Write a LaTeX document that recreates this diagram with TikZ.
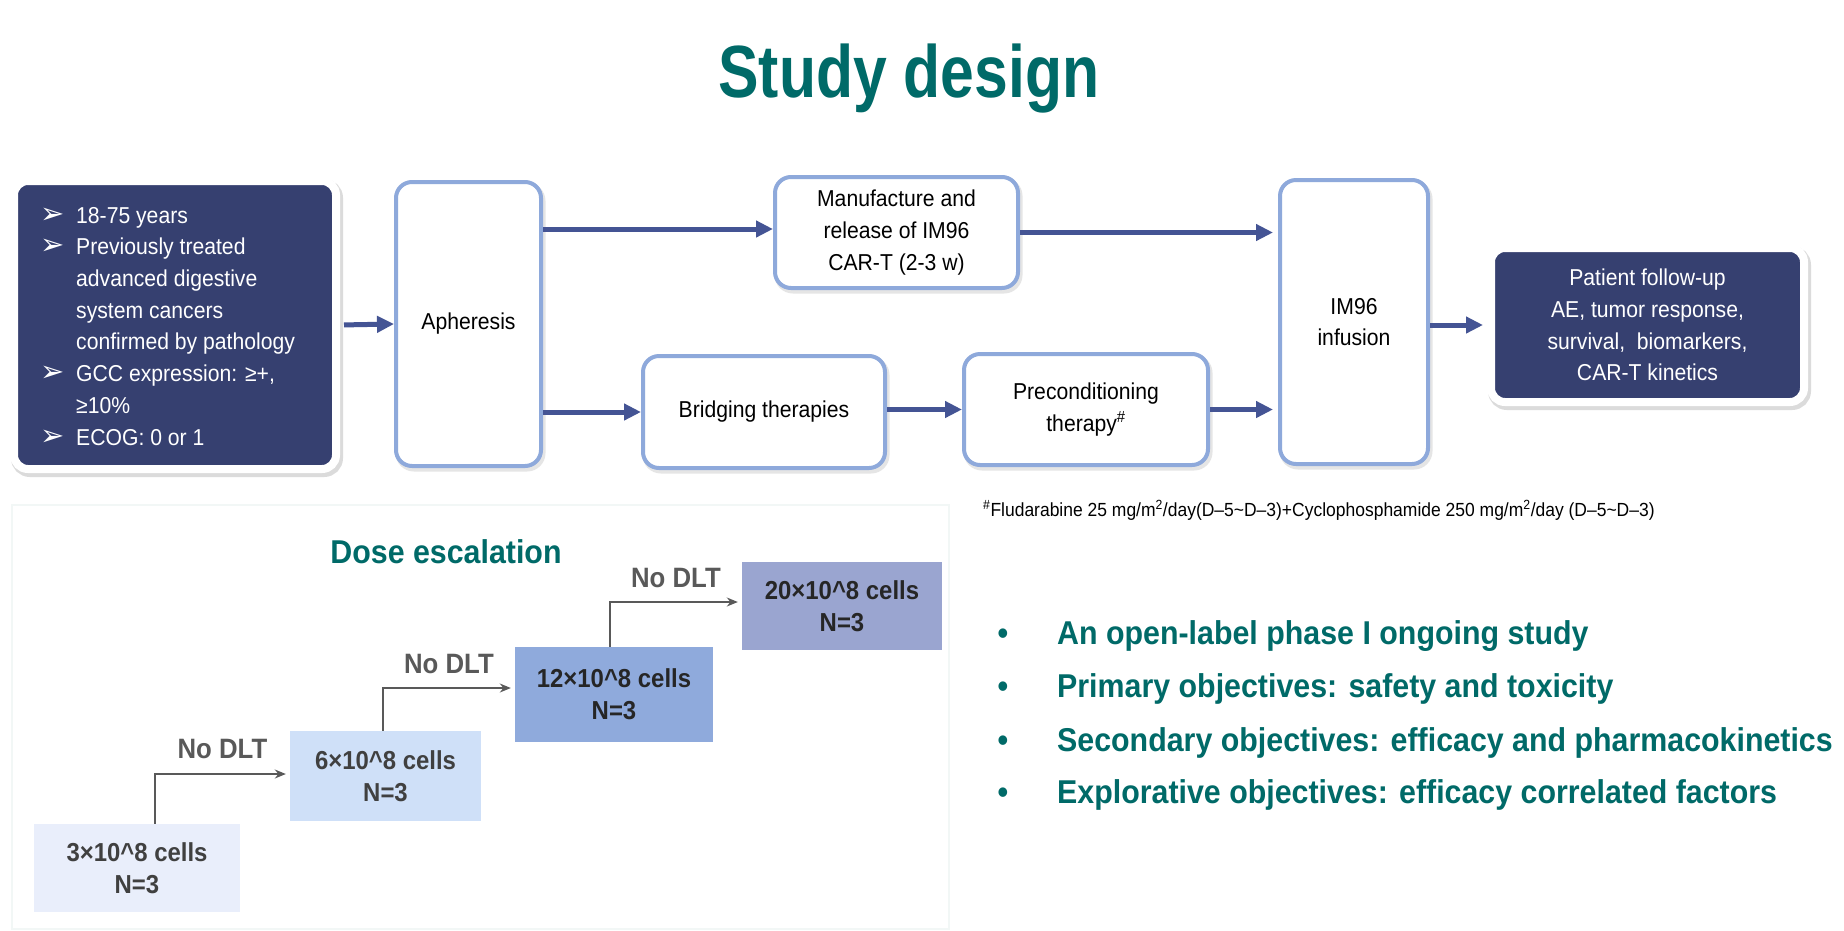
\documentclass[tikz,border=0pt]{standalone}
\usepackage{fontspec}
\setmainfont[FakeStretch=0.92]{Liberation Sans}
\newfontfamily\titlefont[FakeStretch=0.82]{Liberation Sans}
\newfontfamily\symfont{DejaVu Sans}
\usetikzlibrary{arrows.meta}
\definecolor{navy}{RGB}{54,64,112}
\definecolor{lblue}{RGB}{142,169,219}
\definecolor{arrowc}{RGB}{68,84,148}
\definecolor{tealc}{RGB}{0,106,104}
\definecolor{escgray}{RGB}{89,89,89}
\definecolor{dosetxt}{RGB}{64,64,64}
\definecolor{doseA}{RGB}{233,238,251}
\definecolor{doseB}{RGB}{207,224,248}
\definecolor{doseC}{RGB}{143,170,220}
\definecolor{doseD}{RGB}{154,165,208}
\definecolor{panelc}{RGB}{242,247,246}
\newcommand\bulA{\makebox[36pt][l]{\raisebox{0pt}{\symfont\fontsize{29}{29}\selectfont ➢}}}
\newcommand\indA{\hspace*{36pt}}
\begin{document}
\begin{tikzpicture}[x=1pt,y=-1pt,
  darkbox/.style={fill=navy,draw=white,line width=8pt,rounded corners=14pt,text=white,
    preaction={draw=black!14,line width=10pt,transform canvas={xshift=2pt,yshift=-3pt}},
    font=\fontsize{23}{31.7}\selectfont,align=center,inner sep=0pt},
  lbox/.style={fill=white,draw=lblue,line width=4pt,rounded corners=16pt,
    preaction={draw=black!10,line width=5pt,transform canvas={xshift=2pt,yshift=-3pt}},
    font=\fontsize{23}{31.7}\selectfont,align=center,inner sep=0pt},
  flow/.style={draw=arrowc,line width=5pt,-{Triangle[length=17pt,width=16pt]}},
  dosebox/.style={inner sep=0pt,align=center,text=dosetxt,font=\bfseries\fontsize{26}{32}\selectfont},
  esc/.style={draw=escgray,line width=1.5pt,-{Stealth[length=11pt,width=9pt]},shorten >=4pt},
  esclabel/.style={text=escgray,font=\bfseries\fontsize{28}{30}\selectfont,inner sep=0pt},
  bul/.style={anchor=base west,text=tealc,font=\bfseries\fontsize{33}{40}\selectfont,inner sep=0pt}
]
\useasboundingbox (0,0) rectangle (1844,930);
\fill[white] (0,0) rectangle (1844,930);

% title
\node[anchor=base,text=tealc,font=\titlefont\bfseries\fontsize{74}{80}\selectfont,inner sep=0pt] (title) at (909,97) {Study design};

% flow boxes
\node[darkbox,minimum width=322,minimum height=288] (incl) at (175,325) {};
\node[anchor=base west,align=left,text=white,font=\fontsize{23}{31.7}\selectfont,inner sep=0pt] (incltext) at (40,445)
 {\bulA 18-75 years\\
  \bulA Previously treated\\
  \indA advanced digestive\\
  \indA system cancers\\
  \indA confirmed by pathology\\
  \bulA GCC expression: ≥+,\\
  \indA ≥10\%\\
  \bulA ECOG: 0 or 1};

\node[lbox,minimum width=145,minimum height=284] (aph) at (468.5,324) {Apheresis};
\node[lbox,minimum width=243,minimum height=111] (man) at (896.5,232.5) {Manufacture and\\release of IM96\\CAR-T (2-3 w)};
\node[lbox,minimum width=242,minimum height=112] (br) at (764,412) {Bridging therapies};
\node[lbox,minimum width=244,minimum height=111] (pre) at (1086,409.5) {Preconditioning\\therapy\textsuperscript{\#}};
\node[lbox,minimum width=148,minimum height=284] (im) at (1354,322) {IM96\\infusion};
\node[darkbox,minimum width=313,minimum height=154] (pat) at (1647.5,325) {Patient follow-up\\AE, tumor response,\\survival,\ \ biomarkers,\\CAR-T kinetics};

\coordinate (mi) at ([yshift=3.5pt]man.west);
\draw[flow,shorten <=4pt] (incl.east) -- (aph.west);
\draw[flow] (aph.east |- mi) -- (mi);
\draw[flow,shorten >=5pt] (man.east) -- (im.west |- man.east);
\draw[flow] (aph.east |- br.west) -- (br.west);
\draw[flow] (br.east |- pre.west) -- (pre.west);
\draw[flow,shorten >=5pt] (pre.east) -- (im.west |- pre.east);
\draw[flow,shorten >=4pt] (im.east |- pat.west) -- (pat.west);

% footnote
\node[anchor=base west,inner sep=0pt,font=\fontsize{19}{22}\selectfont] (foot) at (983,516)
 {\textsuperscript{\#}Fludarabine 25 mg/m\textsuperscript{2}/day(D–5\textasciitilde D–3)+Cyclophosphamide 250 mg/m\textsuperscript{2}/day (D–5\textasciitilde D–3)};

% dose escalation panel
\draw[panelc,line width=1.5pt] (12,505) rectangle (949,929);
\node[anchor=base,text=tealc,font=\bfseries\fontsize{33}{36}\selectfont,inner sep=0pt] (dtitle) at (446,563) {Dose escalation};

\node[dosebox,fill=doseA,minimum width=206,minimum height=88] (d1) at (137,868) {3×10\^{}8 cells\\N=3};
\node[dosebox,fill=doseB,minimum width=191,minimum height=90] (d2) at (385.5,776) {6×10\^{}8 cells\\N=3};
\node[dosebox,fill=doseC,minimum width=198,minimum height=95,text=black!85] (d3) at (614,694.5) {12×10\^{}8 cells\\N=3};
\node[dosebox,fill=doseD,minimum width=200,minimum height=88,text=black!85] (d4) at (842,606) {20×10\^{}8 cells\\N=3};

\draw[esc] ([xshift=18pt]d1.north) |- node[esclabel,pos=0.75,yshift=25pt] (l1) {No DLT} ([yshift=2pt]d2.west);
\draw[esc] ([xshift=-2.5pt]d2.north) |- node[esclabel,pos=0.75,yshift=24pt] (l2) {No DLT} ([yshift=6.5pt]d3.west);
\draw[esc] ([xshift=-4pt]d3.north) |- node[esclabel,pos=0.75,yshift=24pt] (l3) {No DLT} ([yshift=4pt]d4.west);

% bullets
\node[bul] (b1) at (1057,644) {\llap{•\hspace{49pt}}An open-label phase I ongoing study};
\node[bul] (b2) at (1057,697) {\llap{•\hspace{49pt}}Primary objectives: safety and toxicity};
\node[bul] (b3) at (1057,751) {\llap{•\hspace{49pt}}Secondary objectives: efficacy and pharmacokinetics};
\node[bul] (b4) at (1057,803) {\llap{•\hspace{49pt}}Explorative objectives: efficacy correlated factors};
\end{tikzpicture}
\end{document}
